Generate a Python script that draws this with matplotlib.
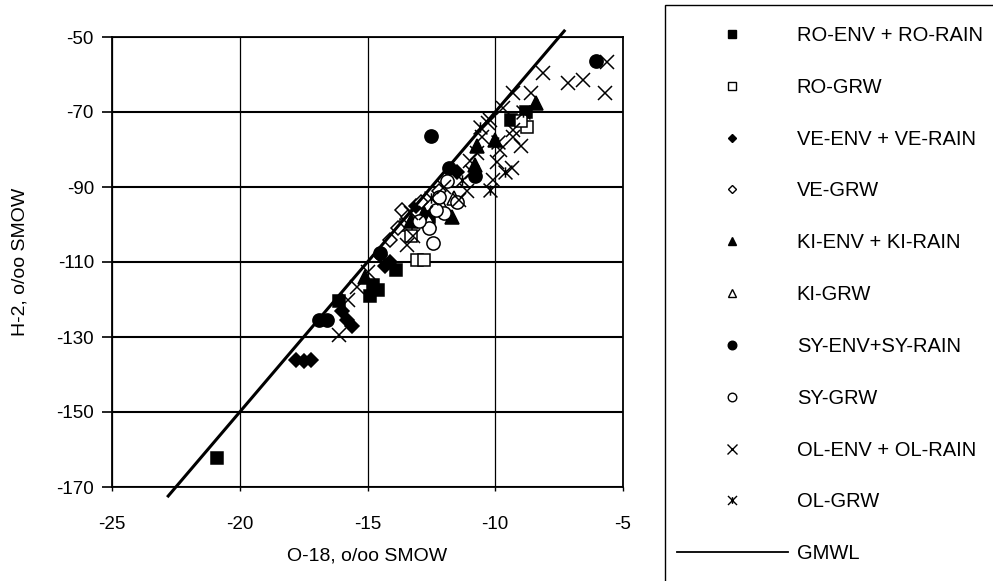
import matplotlib
matplotlib.use("Agg")
import matplotlib.pyplot as plt
from matplotlib.lines import Line2D
from matplotlib.path import Path
from matplotlib.patches import Rectangle

plt.rcParams['font.family'] = ['Liberation Sans', 'DejaVu Sans']

# ---------------- data ----------------
ro_env_x = [-20.9, -16.1, -14.9, -14.8, -14.6, -13.9, -12.6, -9.4, -8.8]
ro_env_y = [-162.3, -120.5, -119, -116, -117.5, -112, -98, -72, -70]

ro_grw_x = [-13.05, -12.8, -13.5, -13.3, -8.75, -9.0]
ro_grw_y = [-109.5, -109.5, -100, -103, -74, -72.5]

ve_env_x = [-17.8, -17.5, -17.2, -16.0, -15.8, -15.6, -14.3, -14.1, -14.5, -11.5, -13.1]
ve_env_y = [-136, -136.5, -136, -123, -125.5, -127, -111, -110, -108, -86, -95]

ve_grw_x = [-13.65, -13.4, -12.2, -12.9, -13.8, -14.1]
ve_grw_y = [-96, -98, -91, -94, -101, -104]

ki_env_x = [-13.3, -12.8, -11.7, -10.7, -10.0, -8.4, -10.8, -15.1]
ki_env_y = [-99, -97, -98, -79, -77.5, -67.5, -84, -114]

ki_grw_x = [-12.1, -11.6, -12.6]
ki_grw_y = [-95, -93, -99]

sy_env_x = [-12.5, -11.8, -6.05, -16.9, -16.6, -14.5, -10.8]
sy_env_y = [-76.5, -85, -56.5, -125.5, -125.5, -107.5, -87]

sy_grw_x = [-12.45, -12.0, -11.9, -12.6, -12.2, -12.3, -11.5, -13.0]
sy_grw_y = [-105, -97, -88.5, -101, -92.7, -96, -94, -99]

ol_env_x = [-16.1, -15.75, -15.4, -15.0, -13.45, -13.2, -13.3, -12.7, -11.4, -11.1,
            -10.9, -11.0, -10.7, -9.8, -9.0, -9.3, -10.5, -10.3, -9.3, -9.3,
            -8.6, -8.15, -7.15, -6.57, -5.7, -5.63, -9.95, -9.35, -10.1, -12.0,
            -9.7, -10.2]
ol_env_y = [-129.5, -120, -116.6, -112.7, -105.5, -103, -97, -97, -93.5, -91,
            -86, -83, -81, -80, -79, -76.7, -76.7, -73, -74.8, -65,
            -65, -59.5, -62.3, -61.5, -65, -56.7, -83.3, -85, -88, -90,
            -69, -72]

ol_grw_x = [-10.2, -9.6, -10.6, -9.9, -12.5, -8.9, -11.3]
ol_grw_y = [-90.8, -86, -74, -78, -93, -70, -88]

gmwl_x = [-22.8, -7.3]
gmwl_y = [-172.4, -48.4]

xticks = [-25, -20, -15, -10, -5]
yticks = [-170, -150, -130, -110, -90, -70, -50]

# custom "X with vertical bar" marker
star_path = Path([(-1, -1), (1, 1), (-1, 1), (1, -1), (0, -0.75), (0, 0.75)],
                 [Path.MOVETO, Path.LINETO, Path.MOVETO, Path.LINETO, Path.MOVETO, Path.LINETO])

series = [
    (ro_env_x, ro_env_y, 's', 'black', 9.0, 'RO-ENV + RO-RAIN'),
    (ro_grw_x, ro_grw_y, 's', 'white', 9.0, 'RO-GRW'),
    (ve_env_x, ve_env_y, 'D', 'black', 7.0, 'VE-ENV + VE-RAIN'),
    (ve_grw_x, ve_grw_y, 'D', 'white', 7.0, 'VE-GRW'),
    (ki_env_x, ki_env_y, '^', 'black', 9.5, 'KI-ENV + KI-RAIN'),
    (ki_grw_x, ki_grw_y, '^', 'white', 9.5, 'KI-GRW'),
    (sy_env_x, sy_env_y, 'o', 'black', 9.5, 'SY-ENV+SY-RAIN'),
    (sy_grw_x, sy_grw_y, 'o', 'white', 9.5, 'SY-GRW'),
    (ol_env_x, ol_env_y, 'x', 'none', 10.0, 'OL-ENV + OL-RAIN'),
    (ol_grw_x, ol_grw_y, star_path, 'none', 10.0, 'OL-GRW'),
]

fig = plt.figure(figsize=(9.93, 5.81), dpi=100)
ax = fig.add_axes([112/993, 1-487/581, (623-112)/993, (487-37)/581])

ax.set_xlim(-25, -5)
ax.set_ylim(-170, -50)
ax.set_xticks(xticks)
ax.set_yticks(yticks)
ax.set_xticklabels([str(v) for v in xticks], fontsize=13.5)
ax.set_yticklabels([str(v) for v in yticks], fontsize=13.5)
ax.tick_params(axis='y', direction='out', length=7, width=1.2, pad=6)
ax.tick_params(axis='x', direction='out', length=3, width=1, pad=18)
ax.xaxis.grid(True, color='black', lw=0.9)
ax.yaxis.grid(True, color='black', lw=1.5)
ax.set_axisbelow(True)
for s in ax.spines.values():
    s.set_linewidth(1.3)

handles = []
for xs, ys, m, fc, ms, lab in series:
    ax.plot(xs, ys, ls='none', marker=m, ms=ms, mfc=fc, mec='black', mew=1.1, zorder=3)
    handles.append(Line2D([], [], ls='none', marker=m, ms=ms*0.65, mfc=fc, mec='black', mew=1.0))

ax.plot(gmwl_x, gmwl_y, color='black', lw=2.2, clip_on=False, zorder=4)
handles.append(Line2D([], [], color='black', lw=1.3))
labels = [s[5] for s in series] + ['GMWL']

ax.set_xlabel('O-18, o/oo SMOW', fontsize=14, labelpad=10)
ax.set_ylabel('H-2, o/oo SMOW', fontsize=14, labelpad=20)

fig.legend(handles, labels, loc='upper left', bbox_to_anchor=(677/993, 1-26/581),
           frameon=False, borderpad=0, fontsize=14.5, labelspacing=1.63,
           handlelength=5.5, handletextpad=0.45, borderaxespad=0)

fig.patches.append(Rectangle((665/993, -0.05), 0.5, 1.05 - 5/581, transform=fig.transFigure,
                             fill=False, lw=1.0, edgecolor='black'))

fig.savefig('out.png', dpi=100)
